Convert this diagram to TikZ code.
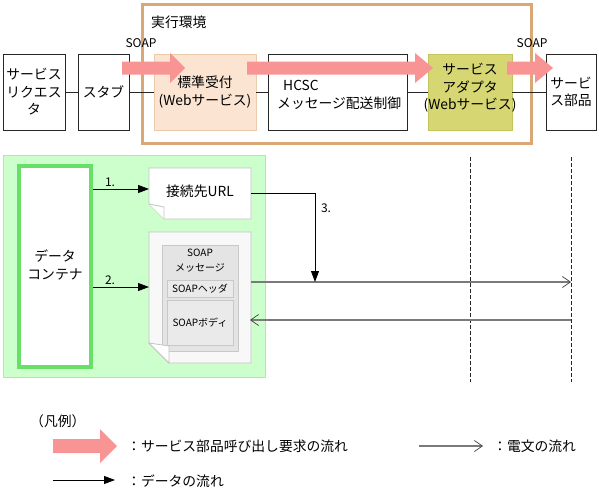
\documentclass[tikz,border=0pt]{standalone}
\usepackage{fontspec}
\setmainfont{Noto Sans CJK JP}
\usetikzlibrary{arrows.meta}
\definecolor{pinkarrow}{HTML}{F99494}
\definecolor{tanframe}{HTML}{D9A877}
\definecolor{peach}{HTML}{FBE5D2}
\definecolor{peachline}{HTML}{EBCBAA}
\definecolor{olive}{HTML}{D6D672}
\definecolor{oliveline}{HTML}{C4C45C}
\definecolor{lgreen}{HTML}{CCFFCC}
\definecolor{lgreenline}{HTML}{A8ECA8}
\definecolor{cgreen}{HTML}{66E066}
\definecolor{docline}{HTML}{C4C4C4}
\definecolor{docfill}{HTML}{F8F8F8}
\definecolor{msgfill}{HTML}{E4E4E4}
\definecolor{partfill}{HTML}{EAEAEA}
\definecolor{msgline}{HTML}{C8C8C8}
\definecolor{telegram}{HTML}{7A7A7A}
\newcommand\fatarrowat[6]{\fill[pinkarrow] (#1,#4-#5) -- (#2,#4-#5) -- (#2,#4-#6) -- (#3,#4) -- (#2,#4+#6) -- (#2,#4+#5) -- (#1,#4+#5) -- cycle;}
\begin{document}
\begin{tikzpicture}[x=1pt,y=-1pt,
  font=\fontsize{13.8}{17.5}\selectfont,
  box/.style={draw=black!85, line width=0.8pt, fill=white, minimum height=76pt, align=center, inner sep=0pt},
  lbl/.style={inner sep=0pt, align=center},
  small/.style={font=\fontsize{10}{15}\selectfont},
  latin/.style={font=\fontsize{12}{15}\selectfont},
  dataflow/.style={-{Triangle[length=11pt,width=8pt]}, line width=0.8pt, black},
  tele/.style={draw=telegram, line width=1.4pt},
  teletip/.style={-{Straight Barb[length=8pt,width=11pt,line width=0.7pt,color=black!75]}},
  ghost/.style={inner sep=0pt, outer sep=0pt}
]
\useasboundingbox (0,0) rectangle (599,495);

% ---------- top row ----------
\draw[tanframe, line width=3pt] (142.5,4.5) rectangle (531.5,143);
\node[lbl, anchor=west] (envlbl) at (151,22) {実行環境};

\node[box, minimum width=62pt] (req) at (34,92) {サービス\\リクエス\\タ};
\node[box, minimum width=51pt] (stub) at (103.5,92) {スタブ};
\node[box, minimum width=102pt, fill=peach, draw=peachline] (std) at (205,92) {};
\node[box, minimum width=139pt] (hcsc) at (337.5,92) {};
\node[box, minimum width=84pt, fill=olive, draw=oliveline] (adp) at (470,92) {};
\node[box, minimum width=50pt] (part) at (571,92) {サービ\\ス部品};

\draw[black!85, line width=0.8pt] (req.east) -- (stub.west);
\draw[black!85, line width=0.8pt] (stub.east) -- (std.west);
\draw[black!85, line width=0.8pt] (std.east) -- (hcsc.west);
\draw[black!85, line width=0.8pt] (hcsc.east) -- (adp.west);
\draw[black!85, line width=0.8pt] (adp.east) -- (part.west);

\fatarrowat{122}{170}{185}{68}{6.5}{15}
\fatarrowat{247}{415}{433}{68}{6.5}{15}
\fatarrowat{507}{535}{553}{68}{6.5}{15}

\node[lbl] (stdtxt) at (205,92) {標準受付\\(Webサービス)};
\node[lbl, align=left, anchor=west] (hcsctxt) at (277,95) {\hspace*{6pt}HCSC\\メッセージ配送制御};
\node[lbl] (adptxt) at (470,88) {サービス\\アダプタ\\(Webサービス)};

\node[lbl, latin] (soap1) at (141,43) {SOAP};
\node[lbl, latin] (soap2) at (532,43) {SOAP};

% ---------- lower part ----------
\draw[lgreenline, fill=lgreen, line width=0.8pt] (3.5,155.5) rectangle (265.5,377.5);
\node[draw=cgreen, fill=white, line width=4pt, minimum width=72pt, minimum height=201pt, inner sep=0pt] (cont) at (55,266.5) {};
\node[lbl] (conttxt) at (55,265) {データ\\コンテナ};

% URL document
\node[ghost, minimum width=102pt, minimum height=51pt] (url) at (200,193.5) {};
\filldraw[fill=white, draw=docline, line width=0.8pt]
  (url.north west) -- (url.north east) -- (url.south east) -- ([xshift=15pt]url.south west) -- ([yshift=15pt]url.south west) -- cycle;
\draw[docline, fill=white, line width=0.8pt] ([yshift=15pt]url.south west) -- ([xshift=15pt,yshift=12pt]url.south west) -- ([xshift=15pt]url.south west);
\node[lbl] (urltxt) at (200,191) {接続先URL};

% SOAP message document
\node[ghost, minimum width=102pt, minimum height=131pt] (soap) at (200,297.5) {};
\filldraw[fill=docfill, draw=docline, line width=0.8pt]
  (soap.north west) -- (soap.north east) -- (soap.south east) -- ([xshift=20pt]soap.south west) -- ([yshift=20pt]soap.south west) -- cycle;
\draw[fill=msgfill, draw=msgline, line width=0.8pt] (162,245) rectangle (238,351);
\node[small, draw=msgline, fill=partfill, line width=0.8pt, minimum width=66pt, minimum height=17pt, inner sep=0pt] (hdr) at (200,288.5) {SOAPヘッダ};
\node[small, draw=msgline, fill=partfill, line width=0.8pt, minimum width=66pt, minimum height=45pt, inner sep=0pt] (body) at (200,322.5) {SOAPボディ};
\node[small, lbl] (msgtxt) at (200,261) {SOAP\\メッセージ};
\draw[docline, fill=white, line width=0.8pt] ([yshift=20pt]soap.south west) -- ([xshift=20pt,yshift=17pt]soap.south west) -- ([xshift=20pt]soap.south west) -- cycle;

% data flows
\draw[dataflow] (cont.east |- 0,189) -- (url.west |- 0,189);
\node[lbl, latin] (n1) at (110,182) {1.};
\draw[dataflow] (cont.east |- 0,287) -- (soap.west |- 0,287);
\node[lbl, latin] (n2) at (110,280) {2.};

% dashed lifelines
\coordinate (d1a) at (470,157); \coordinate (d1b) at (470,382);
\coordinate (d2a) at (571,157); \coordinate (d2b) at (571,382);
\draw[black!85, line width=0.8pt, dash pattern=on 4pt off 2pt] (d1a) -- (d1b);
\draw[black!85, line width=0.8pt, dash pattern=on 4pt off 2pt] (d2a) -- (d2b);

% telegram lines
\coordinate (t1) at (571,282);
\coordinate (t2) at (571,320);
\draw[tele, teletip] (soap.east |- t1) -- (t1);
\draw[tele, teletip] (t2) -- ([xshift=-1pt]soap.east |- t2);

% step 3
\coordinate (c3) at (315,282);
\draw[dataflow] (url.east) -| (c3);
\node[lbl, latin] (n3) at (326,208) {3.};

% ---------- legend ----------
\node[lbl, anchor=west] (legtitle) at (30,421) {（凡例）};
\fatarrowat{53}{100}{117}{446}{7}{17}
\node[lbl, anchor=west] (leg1) at (127,446) {：サービス部品呼び出し要求の流れ};
\coordinate (lg2a) at (419,446); \coordinate (lg2b) at (483,446);
\draw[tele, teletip] (lg2a) -- (lg2b);
\node[lbl, anchor=west] (leg2) at (493,446) {：電文の流れ};
\coordinate (lg3a) at (53,480); \coordinate (lg3b) at (115,480);
\draw[dataflow] (lg3a) -- (lg3b);
\node[lbl, anchor=west] (leg3) at (127,481) {：データの流れ};
\end{tikzpicture}
\end{document}
